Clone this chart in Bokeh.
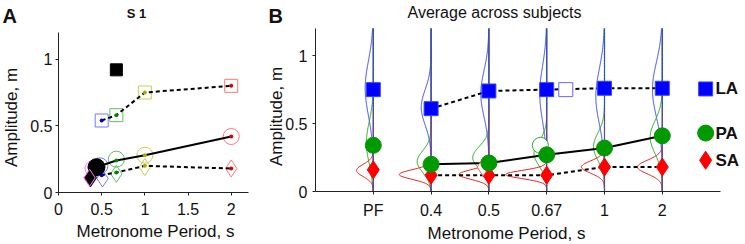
import numpy as np
from bokeh.plotting import figure
from bokeh.layouts import row
from bokeh.models import FixedTicker, Label, CustomJSTickFormatter, Range1d
from bokeh.embed import file_html
from bokeh.resources import INLINE

FONT = "Liberation Sans"

# ---------------- Panel A data (subject S 1) ----------------
cond_edge = ["#ff77ff", "#7777ff", "#66bb66", "#cccc55", "#ff7777"]
cond_dot = ["#dd00dd", "#0000dd", "#008800", "#aaaa00", "#dd0000"]

la_x_A = [0.5, 0.67, 1.0, 2.0]
la_y_A = [0.54, 0.58, 0.75, 0.80]
la_col_A = [1, 2, 3, 4]

pa_open_x_A = [0.40, 0.48, 0.67, 1.0, 2.0]
pa_open_y_A = [0.18, 0.20, 0.25, 0.28, 0.42]
pa_line_x_A = [0.44, 0.67, 1.0, 2.0]
pa_line_y_A = [0.19, 0.24, 0.28, 0.42]
pa_dot_col_A = [2, 3, 4]

sa_open_x_A = [0.36, 0.51, 0.67, 1.0, 2.0]
sa_open_y_A = [0.11, 0.105, 0.14, 0.19, 0.18]
sa_dot_x_A = [0.41, 0.5, 0.67, 1.0, 2.0]
sa_dot_y_A = [0.13, 0.13, 0.15, 0.20, 0.18]

pf_la_A = (0.67, 0.92)
pf_pa_A = (0.44, 0.19)
pf_sa_A = (0.37, 0.11)

x_ticks_A = [0, 0.5, 1, 1.5, 2]
y_ticks = [0, 0.5, 1]

# ---------------- Panel B data (average) ----------------
cats_B = ["PF", "0.4", "0.5", "0.67", "1", "2"]
xpos_B = [1, 2, 3, 4, 5, 6]
la_B = [0.75, 0.61, 0.74, 0.75, 0.76, 0.76]
pa_B = [0.34, 0.20, 0.21, 0.27, 0.32, 0.41]
sa_B = [0.16, 0.12, 0.12, 0.12, 0.18, 0.18]

# PF values re-plotted at the preferred period (open white markers)
pf_open_la_B = (4.33, 0.75)
pf_open_pa_B = (3.89, 0.34)
pf_open_sa_B = (2.90, 0.18)

# distribution curves: centre, spread, width (per category)
la_mu = [0.76, 0.62, 0.72, 0.72, 0.70, 0.75]
la_sd = [0.20, 0.13, 0.17, 0.20, 0.20, 0.20]
la_w = [0.14, 0.17, 0.14, 0.12, 0.15, 0.17]
pa_mu = [0.36, 0.22, 0.25, 0.28, 0.33, 0.40]
pa_sd = [0.15, 0.08, 0.08, 0.09, 0.10, 0.12]
pa_w = [0.12, 0.24, 0.28, 0.22, 0.19, 0.21]
sa_mu = [0.155, 0.125, 0.125, 0.125, 0.18, 0.18]
sa_sd = [0.045, 0.035, 0.035, 0.03, 0.045, 0.05]
sa_w = [0.29, 0.55, 0.52, 0.71, 0.40, 0.43]

legend_labels = ["LA", "PA", "SA"]
legend_y = [0.755, 0.43, 0.23]

BLUE, GREEN, RED = "#0000ff", "#009900", "#ff0000"
H = 244


def make_fig(width, ax0_px, ux, ay0_px, uy, xmax, ymax):
    """Frame covers the whole canvas; axes drawn at data 0 via fixed_location."""
    xr = Range1d(-ax0_px / ux, (width - ax0_px) / ux)
    yr = Range1d(-(H - ay0_px) / uy, ay0_px / uy)
    p = figure(width=width, height=H, x_range=xr, y_range=yr,
               output_backend="svg", toolbar_location=None,
               min_border=0, min_border_left=0, min_border_right=0,
               min_border_top=0, min_border_bottom=0)
    p.title.visible = False
    p.outline_line_color = None
    p.xgrid.visible = False
    p.ygrid.visible = False
    p.background_fill_color = "white"
    p.border_fill_color = "white"
    p.xaxis.fixed_location = 0
    p.yaxis.fixed_location = 0
    p.xaxis.bounds = (0, xmax)
    p.yaxis.bounds = (0, ymax)
    for ax in (p.xaxis[0], p.yaxis[0]):
        ax.axis_line_color = "#222222"
        ax.major_tick_line_color = "#222222"
        ax.minor_tick_line_color = None
        ax.major_tick_in = 0
        ax.major_tick_out = 3
        ax.major_label_text_font = FONT
        ax.major_label_text_font_size = "16px"
        ax.major_label_text_color = "#111111"
    p.xaxis.major_label_standoff = 7
    p.yaxis.major_label_standoff = 3
    p._px = (ax0_px, ux, ay0_px, uy)
    return p


def lab(p, text, px, py, size="17px", bold=False, align="left", angle=0.0):
    """Place a text (vertically centred) at a local pixel position, in data units."""
    ax0, ux, ay0, uy = p._px
    p.add_layout(Label(x=(px - ax0) / ux, y=(ay0 - py) / uy, text=text,
                       text_font=FONT, text_font_size=size,
                       text_font_style="bold" if bold else "normal",
                       text_align=align, text_baseline="middle",
                       angle=angle, text_color="#111111"))


fmt = CustomJSTickFormatter(code="return String(tick)")

# ================= Panel A =================
pA = make_fig(250, 58, 190 / 2.2, 192, 160 / 1.2, 2.2, 1.2)
pA.xaxis.ticker = FixedTicker(ticks=x_ticks_A)
pA.yaxis.ticker = FixedTicker(ticks=y_ticks)
pA.xaxis.formatter = fmt
pA.yaxis.formatter = fmt

# open markers
pA.scatter(la_x_A, la_y_A, marker="square", size=13, fill_color=None,
           line_color=[cond_edge[i] for i in la_col_A], line_width=1)
pA.scatter(pa_open_x_A, pa_open_y_A, marker="circle", size=16, fill_color=None,
           line_color=cond_edge, line_width=1)
pA.scatter(sa_open_x_A, sa_open_y_A, marker="diamond", size=17, fill_color=None,
           line_color=cond_edge, line_width=1)
# lines
pA.line(la_x_A, la_y_A, color="black", line_width=2, line_dash="4 3")
pA.line(pa_line_x_A, pa_line_y_A, color="black", line_width=2)
pA.line(sa_dot_x_A, sa_dot_y_A, color="black", line_width=2, line_dash="4 3")
# dots
pA.scatter(la_x_A, la_y_A, marker="circle", size=4,
           fill_color=[cond_dot[i] for i in la_col_A], line_color=None)
pA.scatter(pa_line_x_A[1:], pa_line_y_A[1:], marker="circle", size=4,
           fill_color=[cond_dot[i] for i in pa_dot_col_A], line_color=None)
pA.scatter(sa_dot_x_A, sa_dot_y_A, marker="circle", size=4,
           fill_color=cond_dot, line_color=None)
# preferred-frequency markers
pA.scatter([pf_la_A[0]], [pf_la_A[1]], marker="square", size=12, color="black")
pA.scatter([pf_pa_A[0]], [pf_pa_A[1]], marker="circle", size=17, color="black")
pA.scatter([pf_sa_A[0]], [pf_sa_A[1]], marker="diamond", size=18, color="black")
pA.scatter([sa_open_x_A[0]], [sa_open_y_A[0]], marker="diamond", size=17,
           fill_color=None, line_color=cond_edge[0], line_width=1)

lab(pA, "A", 2, 15, size="20px", bold=True)
lab(pA, "S 1", 136, 12.5, size="13px", bold=True, align="center")
lab(pA, "Metronome Period, s", 155, 230.5, align="center")
lab(pA, "Amplitude, m", 11, 117, align="center", angle=np.pi / 2)

# ================= Panel B =================
pB = make_fig(495, 65, 57.8, 191, 163 / 1.2, 7, 1.2)
pB.yaxis.major_label_standoff = 5
pB.xaxis.ticker = FixedTicker(ticks=xpos_B)
pB.xaxis.major_label_overrides = {x: c for x, c in zip(xpos_B, cats_B)}
pB.yaxis.ticker = FixedTicker(ticks=y_ticks)
pB.yaxis.formatter = fmt

yy = np.linspace(0, 1.2, 241)
for i, x in enumerate(xpos_B):
    for mu, sd, w, c in ((la_mu[i], la_sd[i], la_w[i], "#3344ff"),
                         (pa_mu[i], pa_sd[i], pa_w[i], "#22aa22"),
                         (sa_mu[i], sa_sd[i], sa_w[i], "#ee2222")):
        xs = x - w * np.exp(-0.5 * ((yy - mu) / sd) ** 2)
        pB.line(xs, yy, color=c, line_width=1)

pB.segment(x0=xpos_B, y0=0, x1=xpos_B, y1=1.2, color="#2233ff", line_width=1.2)
pB.segment(x0=xpos_B, y0=0, x1=xpos_B, y1=1.2, color="#22aa22", line_width=1, line_dash="1 2")
pB.segment(x0=xpos_B, y0=0, x1=xpos_B, y1=0.6, color="#ee2222", line_width=1,
           line_dash="1 2", line_dash_offset=1)

# connecting lines (metronome conditions)
pB.line(xpos_B[1:], la_B[1:], color="black", line_width=2, line_dash="4 3")
pB.line(xpos_B[1:], pa_B[1:], color="black", line_width=2)
pB.line(xpos_B[1:], sa_B[1:], color="black", line_width=2, line_dash="4 3")

pB.scatter(xpos_B, sa_B, marker="diamond", size=18, fill_color=RED, line_color=RED)
# open PF markers (at the preferred period)
pB.scatter([pf_open_la_B[0]], [pf_open_la_B[1]], marker="square", size=14,
           fill_color="white", line_color="#6666ff", line_width=1)
pB.scatter([pf_open_pa_B[0]], [pf_open_pa_B[1]], marker="circle", size=16,
           fill_color="white", line_color="#33aa33", line_width=1)
pB.scatter([pf_open_sa_B[0]], [pf_open_sa_B[1]], marker="diamond", size=18,
           fill_color="white", line_color="#ff5555", line_width=1)
pB.scatter(xpos_B, pa_B, marker="circle", size=16, fill_color=GREEN, line_color=GREEN)
pB.scatter(xpos_B, la_B, marker="square", size=14, fill_color=BLUE, line_color="#3344ff")

# legend
pB.scatter([6.75], [legend_y[0]], marker="square", size=14, fill_color=BLUE, line_color="#3344ff")
pB.scatter([6.75], [legend_y[1]], marker="circle", size=16, fill_color=GREEN, line_color=GREEN)
pB.scatter([6.75], [legend_y[2]], marker="diamond", size=18, fill_color=RED, line_color=RED)
for t, yv in zip(legend_labels, legend_y):
    pB.add_layout(Label(x=6.92, y=yv, text=t, text_font=FONT, text_font_size="17px",
                        text_font_style="bold", text_baseline="middle", text_color="#111111"))

lab(pB, "B", 18, 15, size="20px", bold=True)
lab(pB, "Average across subjects", 244, 12, size="16px", align="center")
lab(pB, "Metronome Period, s", 256, 233, align="center")
lab(pB, "Amplitude, m", 26, 116, align="center", angle=np.pi / 2)

layout = row(pA, pB)
open("out.html", "w").write(file_html(layout, INLINE))
